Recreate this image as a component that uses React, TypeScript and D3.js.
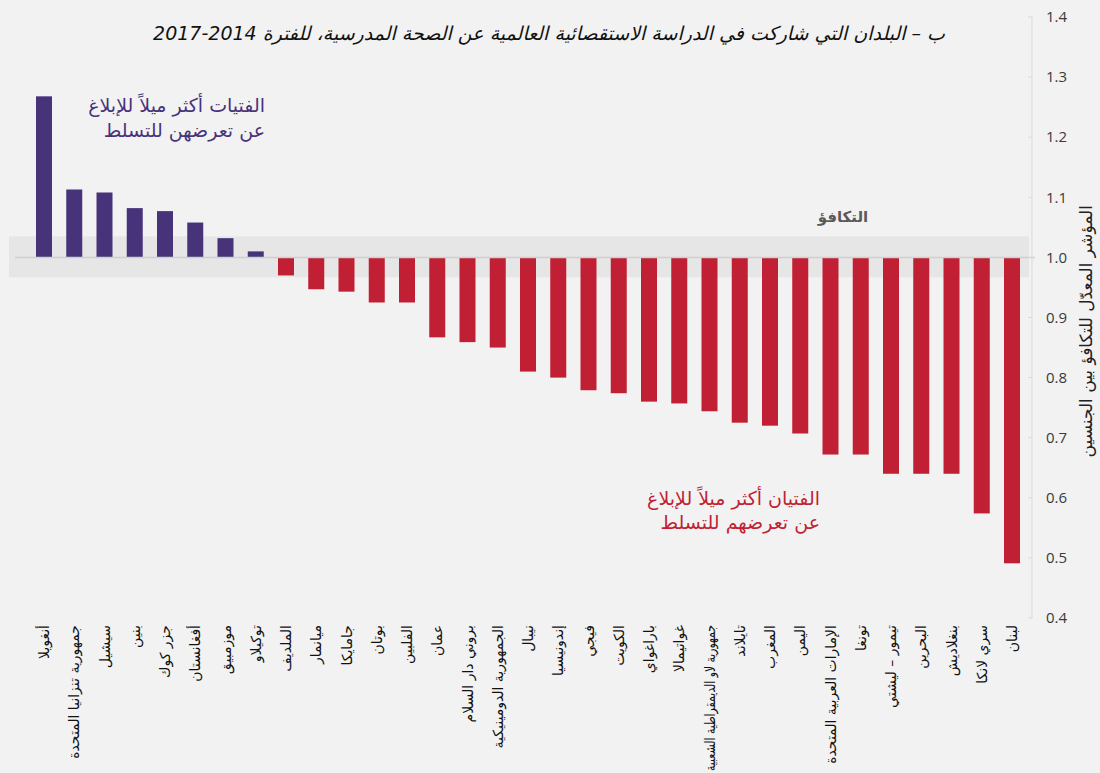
import React, { useEffect, useRef } from "react";
import * as d3 from "d3";

const countries = [
  "أنغويلا",
  "جمهورية تنزانيا المتحدة",
  "سيشيل",
  "بنين",
  "جزر كوك",
  "أفغانستان",
  "موزمبيق",
  "توكيلاو",
  "الملديف",
  "ميانمار",
  "جامايكا",
  "بوتان",
  "الفلبين",
  "عمان",
  "بروني دار السلام",
  "الجمهورية الدومينيكية",
  "نيبال",
  "إندونيسيا",
  "فيجي",
  "الكويت",
  "باراغواي",
  "غواتيمالا",
  "جمهورية لاو الديمقراطية الشعبية",
  "تايلاند",
  "المغرب",
  "اليمن",
  "الإمارات العربية المتحدة",
  "تونغا",
  "تيمور – ليشتي",
  "البحرين",
  "بنغلاديش",
  "سري لانكا",
  "لبنان",
];

const values = [
  1.268, 1.113, 1.108, 1.082, 1.077, 1.058, 1.032, 1.01, 0.97, 0.947, 0.943,
  0.925, 0.925, 0.867, 0.859, 0.85, 0.81, 0.8, 0.779, 0.774, 0.76, 0.757,
  0.744, 0.725, 0.72, 0.707, 0.672, 0.672, 0.64, 0.64, 0.64, 0.574, 0.491,
];

const yTicks = [0.4, 0.5, 0.6, 0.7, 0.8, 0.9, 1.0, 1.1, 1.2, 1.3, 1.4];

const title =
  "ب – البلدان التي شاركت في الدراسة الاستقصائية العالمية عن الصحة المدرسية، للفترة 2014-2017";
const yAxisTitle = "المؤشر المعدّل للتكافؤ بين الجنسين";
const girlsNote = ["الفتيات أكثر ميلاً للإبلاغ", "عن تعرضهن للتسلط"];
const boysNote = ["الفتيان أكثر ميلاً للإبلاغ", "عن تعرضهم للتسلط"];
const parityLabel = "التكافؤ";
const parityBand = [0.967, 1.035];

const W = 1100;
const H = 773;
const PURPLE = "#47337a";
const RED = "#c11f33";
const AR = "'DejaVu Sans', sans-serif";
const NUM = "'Open Sans', 'DejaVu Sans', sans-serif";

export default function App() {
  const labelsRef = useRef<SVGGElement | null>(null);
  const y = d3.scaleLinear().domain([0.4, 1.4]).range([618, 17]);
  const x = d3
    .scalePoint<string>()
    .domain(countries.map((_, i) => String(i)))
    .range([44, 1012]);
  const bw = 16;
  const axisX = 1032;

  useEffect(() => {
    const g = labelsRef.current;
    if (!g) return;
    const maxLen = 146;
    g.querySelectorAll("text").forEach((t) => {
      const el = t as SVGTextElement;
      const len = el.getComputedTextLength();
      if (len > maxLen) {
        el.setAttribute("textLength", String(maxLen));
        el.setAttribute("lengthAdjust", "spacingAndGlyphs");
      }
    });
  }, []);

  return (
    <svg
      width={W}
      height={H}
      style={{ position: "absolute", left: 0, top: 0, display: "block" }}
    >
      <rect x={0} y={0} width={W} height={H} fill="#f2f2f2" />
      {/* parity band */}
      <rect
        x={9}
        y={y(parityBand[1])}
        width={axisX - 3 - 9}
        height={y(parityBand[0]) - y(parityBand[1])}
        fill="#e6e6e6"
      />
      {/* bars */}
      {values.map((v, i) => {
        const cx = x(String(i))!;
        const y0 = y(1.0);
        const yv = y(v);
        return (
          <rect
            key={i}
            x={cx - bw / 2}
            y={Math.min(y0, yv)}
            width={bw}
            height={Math.abs(yv - y0)}
            fill={v >= 1 ? PURPLE : RED}
          />
        );
      })}
      {/* baseline */}
      <line
        x1={15}
        x2={axisX + 3}
        y1={y(1.0)}
        y2={y(1.0)}
        stroke="#cfcfcf"
        strokeWidth={1.5}
      />
      {/* right axis */}
      <line x1={axisX} x2={axisX} y1={y(1.4)} y2={y(0.4)} stroke="#d9d9d9" strokeWidth={1} />
      {yTicks.map((t) => (
        <g key={t}>
          <line x1={axisX - 4} x2={axisX} y1={y(t)} y2={y(t)} stroke="#d9d9d9" />
          <text
            x={1046}
            y={y(t)}
            dy="0.35em"
            fontFamily={NUM}
            fontSize={15}
            fill="#3a3a3a"
          >
            {t.toFixed(1)}
          </text>
        </g>
      ))}
      {/* y axis title */}
      <text
        transform={`translate(1086, 205) rotate(-90)`}
        direction="rtl"
        style={{ direction: "rtl" }}
        textAnchor="start"
        dominantBaseline="central"
        fontFamily={AR}
        fontSize={17}
        fill="#222"
      >
        {yAxisTitle}
      </text>
      {/* category labels */}
      <g ref={labelsRef}>
        {countries.map((c, i) => (
          <text
            key={i}
            transform={`translate(${x(String(i))}, 625) rotate(-90)`}
            direction="rtl"
            style={{ direction: "rtl" }}
            textAnchor="start"
            dominantBaseline="central"
            fontFamily={AR}
            fontSize={14}
            fill="#111"
          >
            {c}
          </text>
        ))}
      </g>
      {/* title */}
      <text
        x={945}
        y={40}
        direction="rtl"
        style={{ direction: "rtl" }}
        textAnchor="start"
        fontFamily={AR}
        fontStyle="italic"
        fontSize={19}
        fill="#111"
      >
        {title}
      </text>
      {/* parity label */}
      <text
        x={843}
        y={222}
        textAnchor="middle"
        fontFamily={AR}
        fontWeight="bold"
        fontSize={15}
        fill="#595959"
      >
        {parityLabel}
      </text>
      {/* annotations */}
      {girlsNote.map((l, i) => (
        <text
          key={i}
          x={265}
          y={112 + i * 25}
          direction="rtl"
          style={{ direction: "rtl" }}
          textAnchor="start"
          fontFamily={AR}
          fontSize={19}
          fill={PURPLE}
        >
          {l}
        </text>
      ))}
      {boysNote.map((l, i) => (
        <text
          key={i}
          x={820}
          y={505 + i * 24}
          direction="rtl"
          style={{ direction: "rtl" }}
          textAnchor="start"
          fontFamily={AR}
          fontSize={19}
          fill={RED}
        >
          {l}
        </text>
      ))}
    </svg>
  );
}
